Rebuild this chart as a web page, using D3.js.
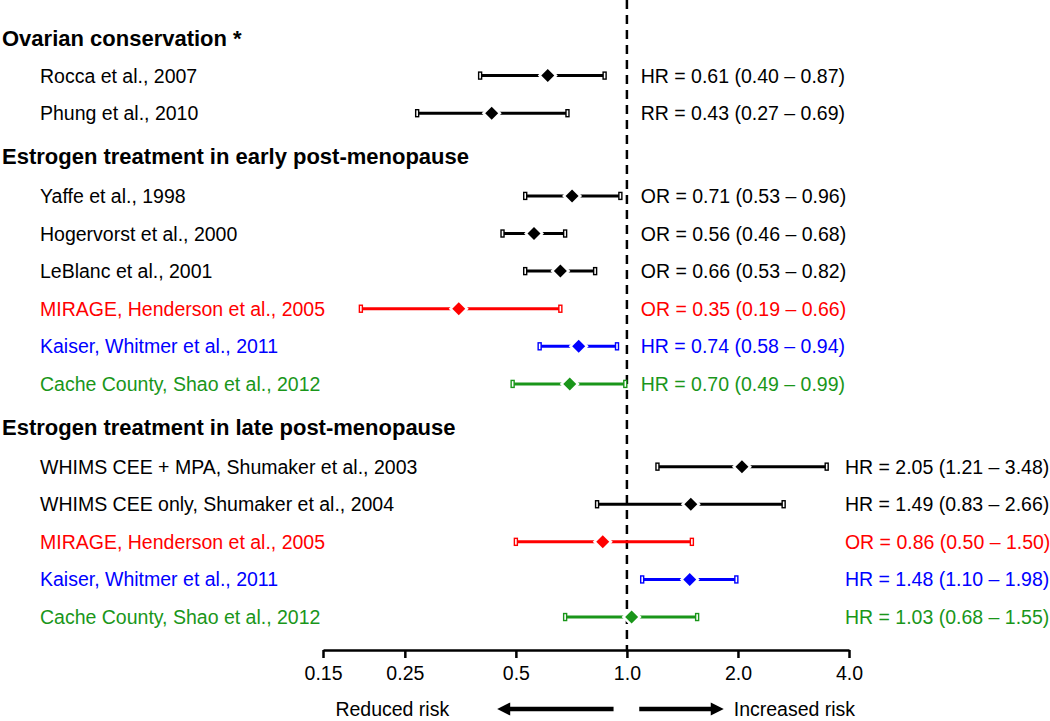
<!DOCTYPE html>
<html>
<head>
<meta charset="utf-8">
<script src="https://cdn.jsdelivr.net/npm/d3@7"></script>
<style>
  html, body { margin: 0; padding: 0; background: #ffffff; }
  svg { display: block; font-family: "Liberation Sans", Arial, Helvetica, sans-serif; }
</style>
</head>
<body>
<svg id="chart" width="1050" height="721"></svg>
<script>
// ---------------- data ----------------
const groups = [
  "Ovarian conservation *",
  "Estrogen treatment in early post-menopause",
  "Estrogen treatment in late post-menopause"
];
const studies = [
  "Rocca et al., 2007",
  "Phung et al., 2010",
  "Yaffe et al., 1998",
  "Hogervorst et al., 2000",
  "LeBlanc et al., 2001",
  "MIRAGE, Henderson et al., 2005",
  "Kaiser, Whitmer et al., 2011",
  "Cache County, Shao et al., 2012",
  "WHIMS CEE + MPA, Shumaker et al., 2003",
  "WHIMS CEE only, Shumaker et al., 2004",
  "MIRAGE, Henderson et al., 2005",
  "Kaiser, Whitmer et al., 2011",
  "Cache County, Shao et al., 2012"
];
const studyGroup = [0, 0, 1, 1, 1, 1, 1, 1, 2, 2, 2, 2, 2];
const measures   = ["HR", "RR", "OR", "OR", "OR", "OR", "HR", "HR", "HR", "HR", "OR", "HR", "HR"];
const estimates  = [0.61, 0.43, 0.71, 0.56, 0.66, 0.35, 0.74, 0.70, 2.05, 1.49, 0.86, 1.48, 1.03];
const lower      = [0.40, 0.27, 0.53, 0.46, 0.53, 0.19, 0.58, 0.49, 1.21, 0.83, 0.50, 1.10, 0.68];
const upper      = [0.87, 0.69, 0.96, 0.68, 0.82, 0.66, 0.94, 0.99, 3.48, 2.66, 1.50, 1.98, 1.55];
const studyColors = ["#000000", "#000000", "#000000", "#000000", "#000000", "#ff0000", "#0000ff", "#1a961a",
                     "#000000", "#000000", "#ff0000", "#0000ff", "#1a961a"];
const tickValues = [0.15, 0.25, 0.5, 1.0, 2.0, 4.0];
const tickLabels = ["0.15", "0.25", "0.5", "1.0", "2.0", "4.0"];
const directionLabels = ["Reduced risk", "Increased risk"];
// value at which the effect text starts, per group
const groupTextAt = [1.09, 1.09, 3.9];
// arrow extents (tail, head) on the ratio scale
const reducedArrow = [0.92, 0.445];
const increasedArrow = [1.08, 1.83];

// ---------------- layout ----------------
const svg = d3.select("#chart");
const axisY = 650;
const x = d3.scaleLog().domain([0.15, 4.0]).range([323, 849]);
const y = d3.scaleLinear().domain([0, 1]).range([38, 38 + 37.6]);
const fmt = d3.format(".2f");

// compute row slots
const headerRows = [];
const studyRows = [];
let pos = 0;
groups.forEach((g, gi) => {
  if (gi > 0) pos += 1.15; else pos = 0;
  headerRows.push({ name: g, pos: pos });
  let first = true;
  studies.forEach((s, i) => {
    if (studyGroup[i] === gi) {
      pos += (first && gi > 0) ? 1.05 : 1;
      first = false;
      studyRows.push({
        name: s, pos: pos, group: gi, measure: measures[i],
        est: estimates[i], lo: lower[i], hi: upper[i], color: studyColors[i]
      });
    }
  });
});

// ---------------- reference line ----------------
svg.append("line")
  .attr("x1", x(1)).attr("x2", x(1))
  .attr("y1", 0).attr("y2", axisY)
  .attr("stroke", "#000").attr("stroke-width", 2.5)
  .attr("stroke-dasharray", "9,6");

// ---------------- headers ----------------
svg.selectAll("text.header").data(headerRows).enter().append("text")
  .attr("class", "header")
  .attr("x", 2).attr("y", d => y(d.pos))
  .attr("dy", "0.36em")
  .style("font-size", "22px").style("font-weight", "bold")
  .attr("fill", "#000")
  .text(d => d.name);

// ---------------- study labels ----------------
svg.selectAll("text.study").data(studyRows).enter().append("text")
  .attr("class", "study")
  .attr("x", 40).attr("y", d => y(d.pos))
  .attr("dy", "0.36em")
  .style("font-size", "19.5px")
  .attr("fill", d => d.color)
  .text(d => d.name);

// ---------------- error bars ----------------
const bar = svg.selectAll("g.bar").data(studyRows).enter().append("g").attr("class", "bar");
bar.append("line")
  .attr("x1", d => x(d.lo)).attr("x2", d => x(d.hi))
  .attr("y1", d => y(d.pos)).attr("y2", d => y(d.pos))
  .attr("stroke", d => d.color).attr("stroke-width", 3);
bar.each(function (d) {
  const g = d3.select(this);
  [d.lo, d.hi].forEach(v => {
    g.append("rect")
      .attr("x", x(v) - 1.5).attr("y", y(d.pos) - 3.5)
      .attr("width", 3).attr("height", 7)
      .attr("fill", "#fff").attr("stroke", d.color).attr("stroke-width", 1.4);
  });
});
const diamond = s => `M0,${-s}L${s},0L0,${s}L${-s},0Z`;
bar.append("path")
  .attr("d", diamond(10))
  .attr("transform", d => `translate(${x(d.est)},${y(d.pos)})`)
  .attr("fill", "#fff");
bar.append("path")
  .attr("d", diamond(6.5))
  .attr("transform", d => `translate(${x(d.est)},${y(d.pos)})`)
  .attr("fill", d => d.color);

// ---------------- effect text ----------------
svg.selectAll("text.effect").data(studyRows).enter().append("text")
  .attr("class", "effect")
  .attr("x", d => x(groupTextAt[d.group]))
  .attr("y", d => y(d.pos))
  .attr("dy", "0.36em")
  .style("font-size", "19.5px")
  .attr("fill", d => d.color)
  .text(d => `${d.measure} = ${fmt(d.est)} (${fmt(d.lo)} \u2013 ${fmt(d.hi)})`);

// ---------------- axis ----------------
const axis = d3.axisBottom(x)
  .tickValues(tickValues)
  .tickFormat((d, i) => tickLabels[i])
  .tickSizeInner(8).tickSizeOuter(0).tickPadding(8);
const ag = svg.append("g").attr("transform", `translate(0,${axisY})`).call(axis);
ag.select(".domain").attr("stroke", "#000").attr("stroke-width", 2.5);
ag.selectAll(".tick line").attr("stroke", "#000").attr("stroke-width", 2.5);
ag.selectAll(".tick text")
  .attr("fill", "#000")
  .style("font-size", "19.5px")
  .style("font-family", "\"Liberation Sans\", Arial, Helvetica, sans-serif");

// ---------------- direction arrows ----------------
const arrowY = 709;
function arrow(tailV, headV) {
  const xt = x(tailV), xh = x(headV);
  const dir = xh > xt ? 1 : -1;
  const headLen = 13, headHalf = 6.5;
  svg.append("line")
    .attr("x1", xt).attr("x2", xh - dir * headLen + dir * 1)
    .attr("y1", arrowY).attr("y2", arrowY)
    .attr("stroke", "#000").attr("stroke-width", 4.5);
  svg.append("path")
    .attr("d", `M${xh},${arrowY}L${xh - dir * headLen},${arrowY - headHalf}L${xh - dir * headLen},${arrowY + headHalf}Z`)
    .attr("fill", "#000");
}
arrow(reducedArrow[0], reducedArrow[1]);
arrow(increasedArrow[0], increasedArrow[1]);

svg.append("text")
  .attr("x", x(reducedArrow[1]) - 48).attr("y", arrowY).attr("dy", "0.36em")
  .attr("text-anchor", "end")
  .style("font-size", "19.5px").attr("fill", "#000")
  .text(directionLabels[0]);
svg.append("text")
  .attr("x", x(increasedArrow[1]) + 10).attr("y", arrowY).attr("dy", "0.36em")
  .attr("text-anchor", "start")
  .style("font-size", "19.5px").attr("fill", "#000")
  .text(directionLabels[1]);
</script>
</body>
</html>
